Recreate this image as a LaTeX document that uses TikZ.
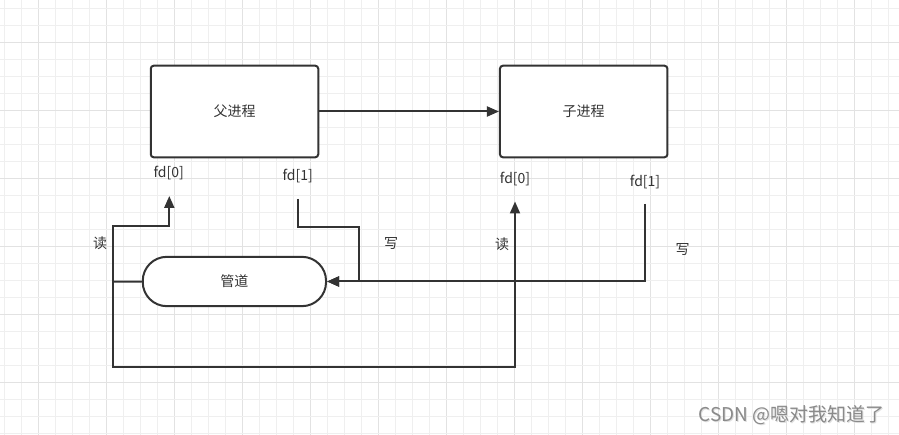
\documentclass[tikz,border=0pt]{standalone}
\usepackage{fontspec}
\setmainfont{Noto Sans CJK SC}
\usetikzlibrary{arrows.meta}
\definecolor{ink}{HTML}{333333}
\definecolor{gridminor}{HTML}{EFEFEF}
\definecolor{gridmajor}{HTML}{E2E2E2}
\definecolor{wm}{HTML}{8A8A8A}
\begin{document}
\begin{tikzpicture}[x=1pt,y=-1pt,
  every node/.style={font=\fontsize{14}{16}\selectfont, text=ink, inner sep=0pt},
  procbox/.style={draw=ink, line width=2pt, rounded corners=3pt, fill=white, minimum width=167.5pt, minimum height=91.6pt},
  pipebox/.style={draw=ink, line width=2pt, rounded corners=24pt, fill=white, minimum width=183.3pt, minimum height=49.3pt},
  conn/.style={draw=ink, line width=2pt},
  arr/.style={conn, -{Triangle[length=12pt,width=10pt]}},
  lbl/.style={font=\fontsize{14}{16}\selectfont}
]
\useasboundingbox (0,0) rectangle (899,435);
\fill[white] (0,0) rectangle (899,435);
% grid
\foreach \k in {0,...,52} {
  \pgfmathsetmacro{\xx}{4.3+17*\k}
  \pgfmathtruncatemacro{\m}{mod(\k+2,4)}
  \ifnum\m=0 \draw[gridmajor, line width=1pt] (\xx,0) -- (\xx,435);
  \else \draw[gridminor, line width=1pt] (\xx,0) -- (\xx,435); \fi
}
\foreach \k in {0,...,25} {
  \pgfmathsetmacro{\yy}{8.3+17*\k}
  \pgfmathtruncatemacro{\m}{mod(\k+2,4)}
  \ifnum\m=0 \draw[gridmajor, line width=1pt] (0,\yy) -- (899,\yy);
  \else \draw[gridminor, line width=1pt] (0,\yy) -- (899,\yy); \fi
}
% boxes
\node[procbox] (parent) at (234.5,111.5) {父进程};
\node[procbox] (child) at (583.7,111.5) {子进程};
\node[pipebox] (pipe) at (234.4,281.5) {管道};
% fd labels
\node (pf0) at (168.7,173.3) {fd[0]};
\node (pf1) at (297.7,176) {fd[1]};
\node (cf0) at (515,179.3) {fd[0]};
\node (cf1) at (645,181.7) {fd[1]};
% read / write labels
\node (pr) at (100,243.5) {读};
\node (pw) at (391,243.5) {写};
\node (cr) at (502,244.3) {读};
\node (cw) at (682.5,249) {写};
% coordinates
\coordinate (J) at (112.7,281.7);
\coordinate (pr0) at (169.3,196);
\coordinate (cr0) at (515,201.5);
\coordinate (pw1) at (298.3,199);
\coordinate (cw1) at (645,204);
% connectors
\draw[arr] (parent.east) -- (child.west);
\draw[conn] (pipe.west) -- (J);
\draw[arr] (J) -- (112.7,225.7) -| (pr0);
\draw[arr] (J) -- (112.7,366.7) -| (cr0);
\draw[arr] (pw1) -- (298.3,227.3) -| (359,260) |- (pipe.east);
\draw[arr] (cw1) |- (pipe.east);
% watermark
\node[font=\fontsize{19}{21}\selectfont, text=black!12, anchor=east] at (886,416) {CSDN @嗯对我知道了};
\node[font=\fontsize{19}{21}\selectfont, text=wm, anchor=east] (wmk) at (885,415) {CSDN @嗯对我知道了};
\end{tikzpicture}
\end{document}
